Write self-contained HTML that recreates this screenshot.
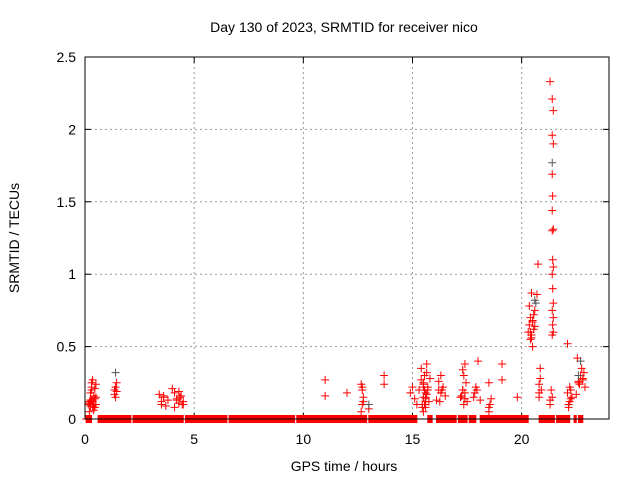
<!DOCTYPE html>
<html><head><meta charset="utf-8"><style>
html,body{margin:0;padding:0;background:#fff;}
svg{display:block;font-family:"Liberation Sans",sans-serif;}
</style></head><body>
<svg id="chart" width="640" height="480">
<rect width="640" height="480" fill="#fff"/>
<text x="344" y="32" font-size="14" text-anchor="middle">Day 130 of 2023, SRMTID for receiver nico</text>
<text x="344" y="471" font-size="14" text-anchor="middle">GPS time / hours</text>
<text transform="translate(19,238) rotate(-90)" font-size="14" text-anchor="middle">SRMTID / TECUs</text>
<g id="grid"></g><g id="ticks"></g><g id="marks"></g>
<rect x="85" y="57" width="524" height="362" fill="none" stroke="#000" stroke-width="1"/>
</svg>
<script>
const xTicks=[0,5,10,15,20];
const yTicks=[0,0.5,1,1.5,2,2.5];
const yTickLabels=["0","0.5","1","1.5","2","2.5"];
const zeroRanges=[[0.05,0.3],[0.6,2.1],[2.2,4.5],[4.6,6.5],[6.6,9.6],[9.7,12.9],[13.0,15.2],[15.7,15.9],[16.1,17.0],[17.1,17.5],[17.6,17.9],[18.1,20.3],[20.8,21.5],[21.6,22.2],[22.4,22.5],[22.6,22.8]];
const redT=[0.15,0.2,0.25,0.3,0.35,0.4,0.45,0.5,0.2,0.3,0.4,0.5,0.25,0.35,0.45,0.3,0.4,0.5,0.2,0.25,0.3,0.35,0.4,0.45,1.35,1.4,1.45,1.35,1.4,1.45,3.4,3.5,3.6,3.7,3.8,3.6,3.5,4.0,4.1,4.2,4.3,4.4,4.5,4.1,4.3,4.5,4.2,4.35,4.45,11.0,11.0,12.0,12.65,12.7,12.75,12.7,12.65,12.75,12.7,13.0,13.7,13.7,14.9,15.0,15.1,15.2,15.3,15.4,15.45,15.5,15.55,15.6,15.65,15.7,15.75,15.5,15.6,15.4,15.7,15.55,15.65,15.5,15.6,15.8,15.45,15.5,15.55,15.6,15.65,15.5,15.6,16.1,16.2,16.3,16.4,16.5,16.2,16.3,16.25,16.35,17.2,17.3,17.35,17.4,17.45,17.5,17.3,17.4,17.35,17.25,17.3,17.4,17.8,17.9,18.0,18.1,17.95,17.85,18.5,18.55,18.5,18.6,18.5,19.1,19.1,19.8,20.3,20.35,20.4,20.45,20.5,20.55,20.6,20.4,20.5,20.35,20.45,20.55,20.6,20.4,20.5,20.45,20.7,20.75,20.8,20.85,20.8,20.9,20.85,20.8,21.3,21.35,21.3,21.4,21.3,21.4,21.45,21.4,21.45,21.4,21.42,21.4,21.45,21.4,21.42,21.45,21.4,21.42,21.45,21.4,21.45,21.42,21.45,21.4,22.1,22.15,22.2,22.25,22.3,22.15,22.2,22.1,22.25,22.5,22.6,22.7,22.8,22.9,22.6,22.75,22.55,22.85,22.65,22.8];
const redV=[0.1,0.12,0.18,0.22,0.27,0.08,0.14,0.1,0.05,0.2,0.16,0.24,0.13,0.09,0.21,0.25,0.06,0.15,0.11,0.09,0.13,0.12,0.1,0.08,0.17,0.22,0.25,0.2,0.15,0.19,0.17,0.12,0.15,0.09,0.13,0.16,0.1,0.21,0.18,0.14,0.11,0.16,0.12,0.08,0.19,0.1,0.13,0.15,0.1,0.27,0.16,0.18,0.24,0.2,0.15,0.1,0.05,0.12,0.22,0.07,0.3,0.24,0.18,0.22,0.14,0.1,0.2,0.35,0.08,0.25,0.3,0.15,0.38,0.22,0.12,0.05,0.18,0.27,0.2,0.1,0.32,0.24,0.14,0.28,0.1,0.15,0.2,0.12,0.17,0.22,0.08,0.13,0.2,0.3,0.22,0.16,0.26,0.18,0.12,0.2,0.15,0.2,0.3,0.38,0.25,0.12,0.34,0.18,0.1,0.16,0.2,0.14,0.15,0.22,0.4,0.13,0.2,0.18,0.05,0.1,0.25,0.14,0.08,0.38,0.27,0.15,0.6,0.78,0.55,0.87,0.68,0.62,0.75,0.7,0.5,0.65,0.58,0.72,0.64,0.6,0.67,0.56,0.86,1.07,0.15,0.35,0.24,0.2,0.28,0.18,0.1,0.2,0.13,0.15,2.33,2.21,2.13,1.96,1.9,1.69,1.54,1.44,1.31,1.3,1.1,1.05,1.0,0.9,0.8,0.75,0.7,0.65,0.6,0.58,0.52,0.08,0.12,0.2,0.15,0.1,0.22,0.18,0.14,0.17,0.25,0.3,0.28,0.22,0.26,0.35,0.42,0.32,0.24,0.27,0.3];
const greyT=[1.4,13.0,20.6,20.65,21.4,22.7,22.6];
const greyV=[0.32,0.1,0.82,0.8,1.77,0.4,0.3];
const X0=85,X1=609,Y0=419,Y1=57,XMAX=24,YMAX=2.5;
const xs=v=>X0+v/XMAX*(X1-X0), ys=v=>Y0-v/YMAX*(Y0-Y1);
const NS="http://www.w3.org/2000/svg";
const grid=document.getElementById('grid'),ticks=document.getElementById('ticks'),marks=document.getElementById('marks');
function mk(tag,at,parent){const e=document.createElementNS(NS,tag);for(const k in at)e.setAttribute(k,at[k]);parent.appendChild(e);return e;}
xTicks.forEach(t=>{const x=xs(t);
 if(t>0){const g=mk('line',{x1:x,x2:x,y1:Y1,y2:Y0,stroke:'#999','stroke-dasharray':'2,3'},grid);
 
 }
 const tk=mk('path',{d:`M${x},${Y0}v-6M${x},${Y1}v6`,stroke:'#000'},ticks);
 
 
 const l=mk('text',{x:x,y:444,'font-size':14,'text-anchor':'middle'},ticks);l.textContent=t;
 
 });
yTicks.forEach((t,i)=>{const y=ys(t);
 if(t>0&&t<YMAX){const g=mk('line',{x1:X0,x2:X1,y1:y,y2:y,stroke:'#999','stroke-dasharray':'2,3'},grid);
 
 }
 const tk=mk('path',{d:`M${X0},${y}h6M${X1},${y}h-6`,stroke:'#000'},ticks);
 
 
 const l=mk('text',{x:76,y:y+5,'font-size':14,'text-anchor':'end'},ticks);l.textContent=yTickLabels[i];
 
 });
function plus(t,v,c,name){const x=xs(t),y=ys(v);
 const p=mk('path',{d:`M${x-4},${y}h8M${x},${y-4}v8`,stroke:c,'stroke-width':1},marks);
 
 }
zeroRanges.forEach(r=>{for(let t=r[0];t<=r[1]+1e-9;t+=0.025)plus(t,0,'#f00','zero-point');});
redT.forEach((t,i)=>plus(t,redV[i],'#f00','srmtid-point'));
greyT.forEach((t,i)=>plus(t,greyV[i],'#555','srmtid-point-alt'));
</script>
</body></html>
